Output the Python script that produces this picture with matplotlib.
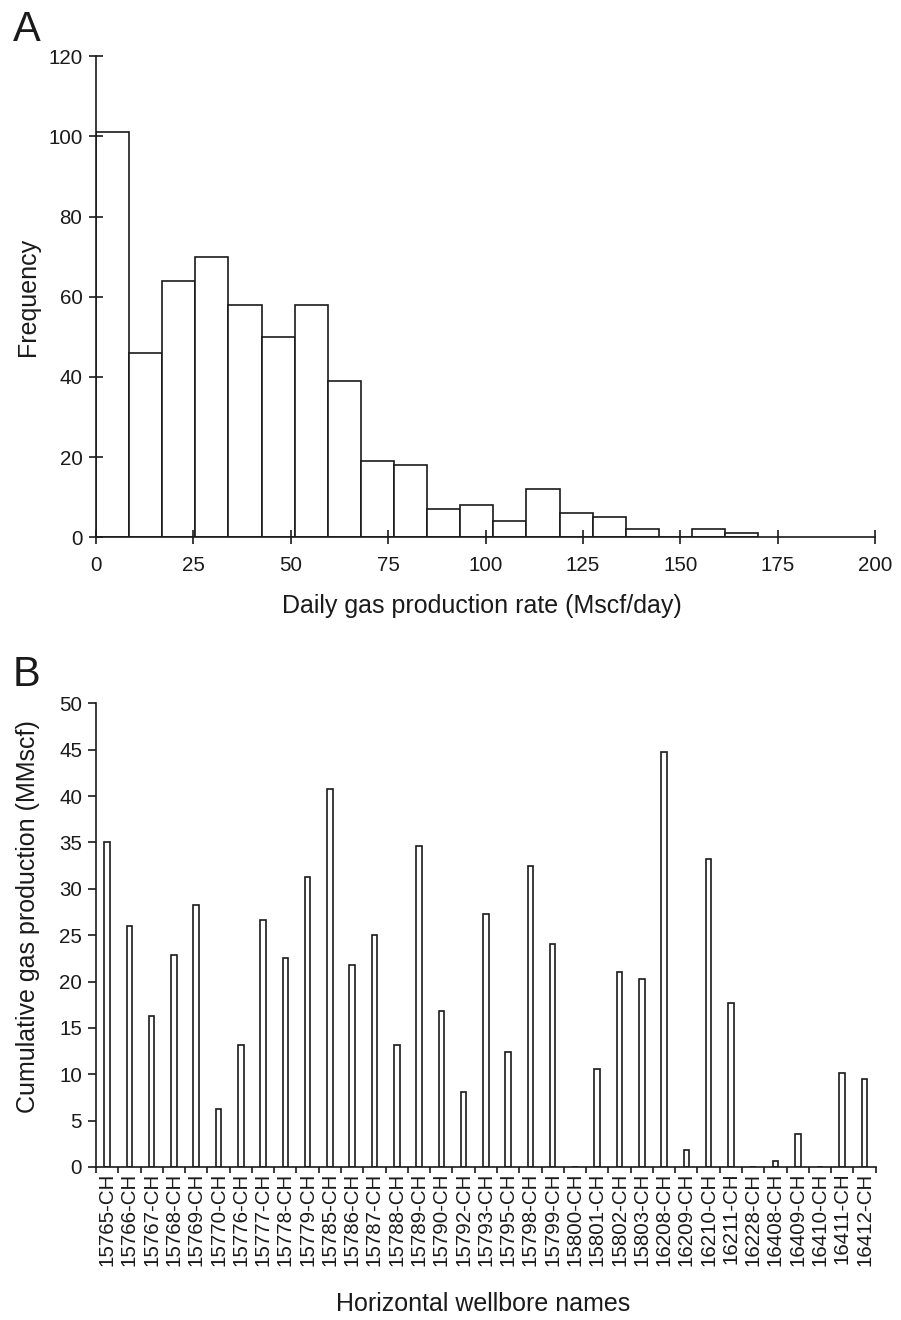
import matplotlib

matplotlib.use("Agg")

import matplotlib.pyplot as plt
import numpy as np

# Panel A: histogram of daily gas rate, bins of 8.5 Mscf/day starting at 0
bin_width = 8.5
frequency = [101, 46, 64, 70, 58, 50, 58, 39, 19, 18,
             7, 8, 4, 12, 6, 5, 2, 0, 2, 1]

# Panel B: cumulative production per horizontal well
wellbore_names = [
    "15765-CH", "15766-CH", "15767-CH", "15768-CH", "15769-CH",
    "15770-CH", "15776-CH", "15777-CH", "15778-CH", "15779-CH",
    "15785-CH", "15786-CH", "15787-CH", "15788-CH", "15789-CH",
    "15790-CH", "15792-CH", "15793-CH", "15795-CH", "15798-CH",
    "15799-CH", "15800-CH", "15801-CH", "15802-CH", "15803-CH",
    "16208-CH", "16209-CH", "16210-CH", "16211-CH", "16228-CH",
    "16408-CH", "16409-CH", "16410-CH", "16411-CH", "16412-CH",
]
cumulative_mmscf = [
    35.0, 26.0, 16.3, 22.9, 28.2,
    6.3, 13.2, 26.6, 22.5, 31.3,
    40.8, 21.8, 25.0, 13.2, 34.6,
    16.8, 8.1, 27.3, 12.4, 32.5,
    24.0, 0.0, 10.6, 21.0, 20.3,
    44.7, 1.8, 33.2, 17.7, 0.0,
    0.7, 3.6, 0.0, 10.1, 9.5,
]

INK = "#1a1a1a"
LINE_W = 1.2

plt.rcParams["font.family"] = ["Liberation Sans", "DejaVu Sans"]
plt.rcParams["text.color"] = INK
plt.rcParams["axes.labelcolor"] = INK
plt.rcParams["xtick.color"] = INK
plt.rcParams["ytick.color"] = INK

W, H = 901, 1320
fig = plt.figure(figsize=(W / 100, H / 100), dpi=100)


def style_spines(ax):
    for side in ["top", "right"]:
        ax.spines[side].set_visible(False)
    for side in ["left", "bottom"]:
        ax.spines[side].set_color(INK)
        ax.spines[side].set_linewidth(LINE_W)


# ---- Panel A ----
ax_a = fig.add_axes([96 / W, (H - 537.3) / H, 779 / W, 481 / H])
left_edges = np.arange(len(frequency)) * bin_width
ax_a.bar(left_edges, frequency, width=bin_width, align="edge",
         facecolor="white", edgecolor=INK, linewidth=LINE_W)
ax_a.set_xlim(0, 200)
ax_a.set_ylim(0, 120)
ax_a.set_xticks(np.arange(0, 201, 25))
ax_a.set_yticks(np.arange(0, 121, 20))
style_spines(ax_a)
ax_a.tick_params(axis="both", direction="inout", length=9.5, width=LINE_W,
                 labelsize=14.8)
ax_a.tick_params(axis="x", pad=9)
ax_a.tick_params(axis="y", pad=5)
ax_a.set_xlabel("Daily gas production rate (Mscf/day)", fontsize=18)
ax_a.set_ylabel("Frequency", fontsize=18)
ax_a.xaxis.set_label_coords(0.495, -0.118)
ax_a.yaxis.set_label_coords(-0.072, 0.5)

# ---- Panel B ----
ax_b = fig.add_axes([96 / W, (H - 1167) / H, 779.7 / W, 463.7 / H])
positions = np.arange(len(wellbore_names))
ax_b.bar(positions, cumulative_mmscf, width=0.25,
         facecolor="white", edgecolor=INK, linewidth=LINE_W)
ax_b.set_xlim(-0.5, len(wellbore_names) - 0.5)
ax_b.set_ylim(0, 50)
ax_b.set_yticks(np.arange(0, 51, 5))
ax_b.set_xticks(positions)
ax_b.set_xticklabels(wellbore_names, rotation=90)
ax_b.set_xticks(np.arange(len(wellbore_names) + 1) - 0.5, minor=True)
style_spines(ax_b)
ax_b.tick_params(axis="x", which="major", length=0, pad=4, labelsize=14.8)
ax_b.tick_params(axis="x", which="minor", direction="out", length=4,
                 width=LINE_W)
ax_b.tick_params(axis="y", direction="out", length=6, width=LINE_W, pad=4,
                 labelsize=14.8)
ax_b.set_xlabel("Horizontal wellbore names", fontsize=18)
ax_b.set_ylabel("Cumulative gas production (MMscf)", fontsize=18)
ax_b.xaxis.set_label_coords(0.497, -0.27)
ax_b.yaxis.set_label_coords(-0.072, 0.541)

# panel letters
fig.text(13 / W, 1 - 10 / H, "A", fontsize=30, va="top", ha="left")
fig.text(13 / W, 1 - 655 / H, "B", fontsize=30, va="top", ha="left")

fig.savefig("out.png", dpi=100, facecolor="white")
